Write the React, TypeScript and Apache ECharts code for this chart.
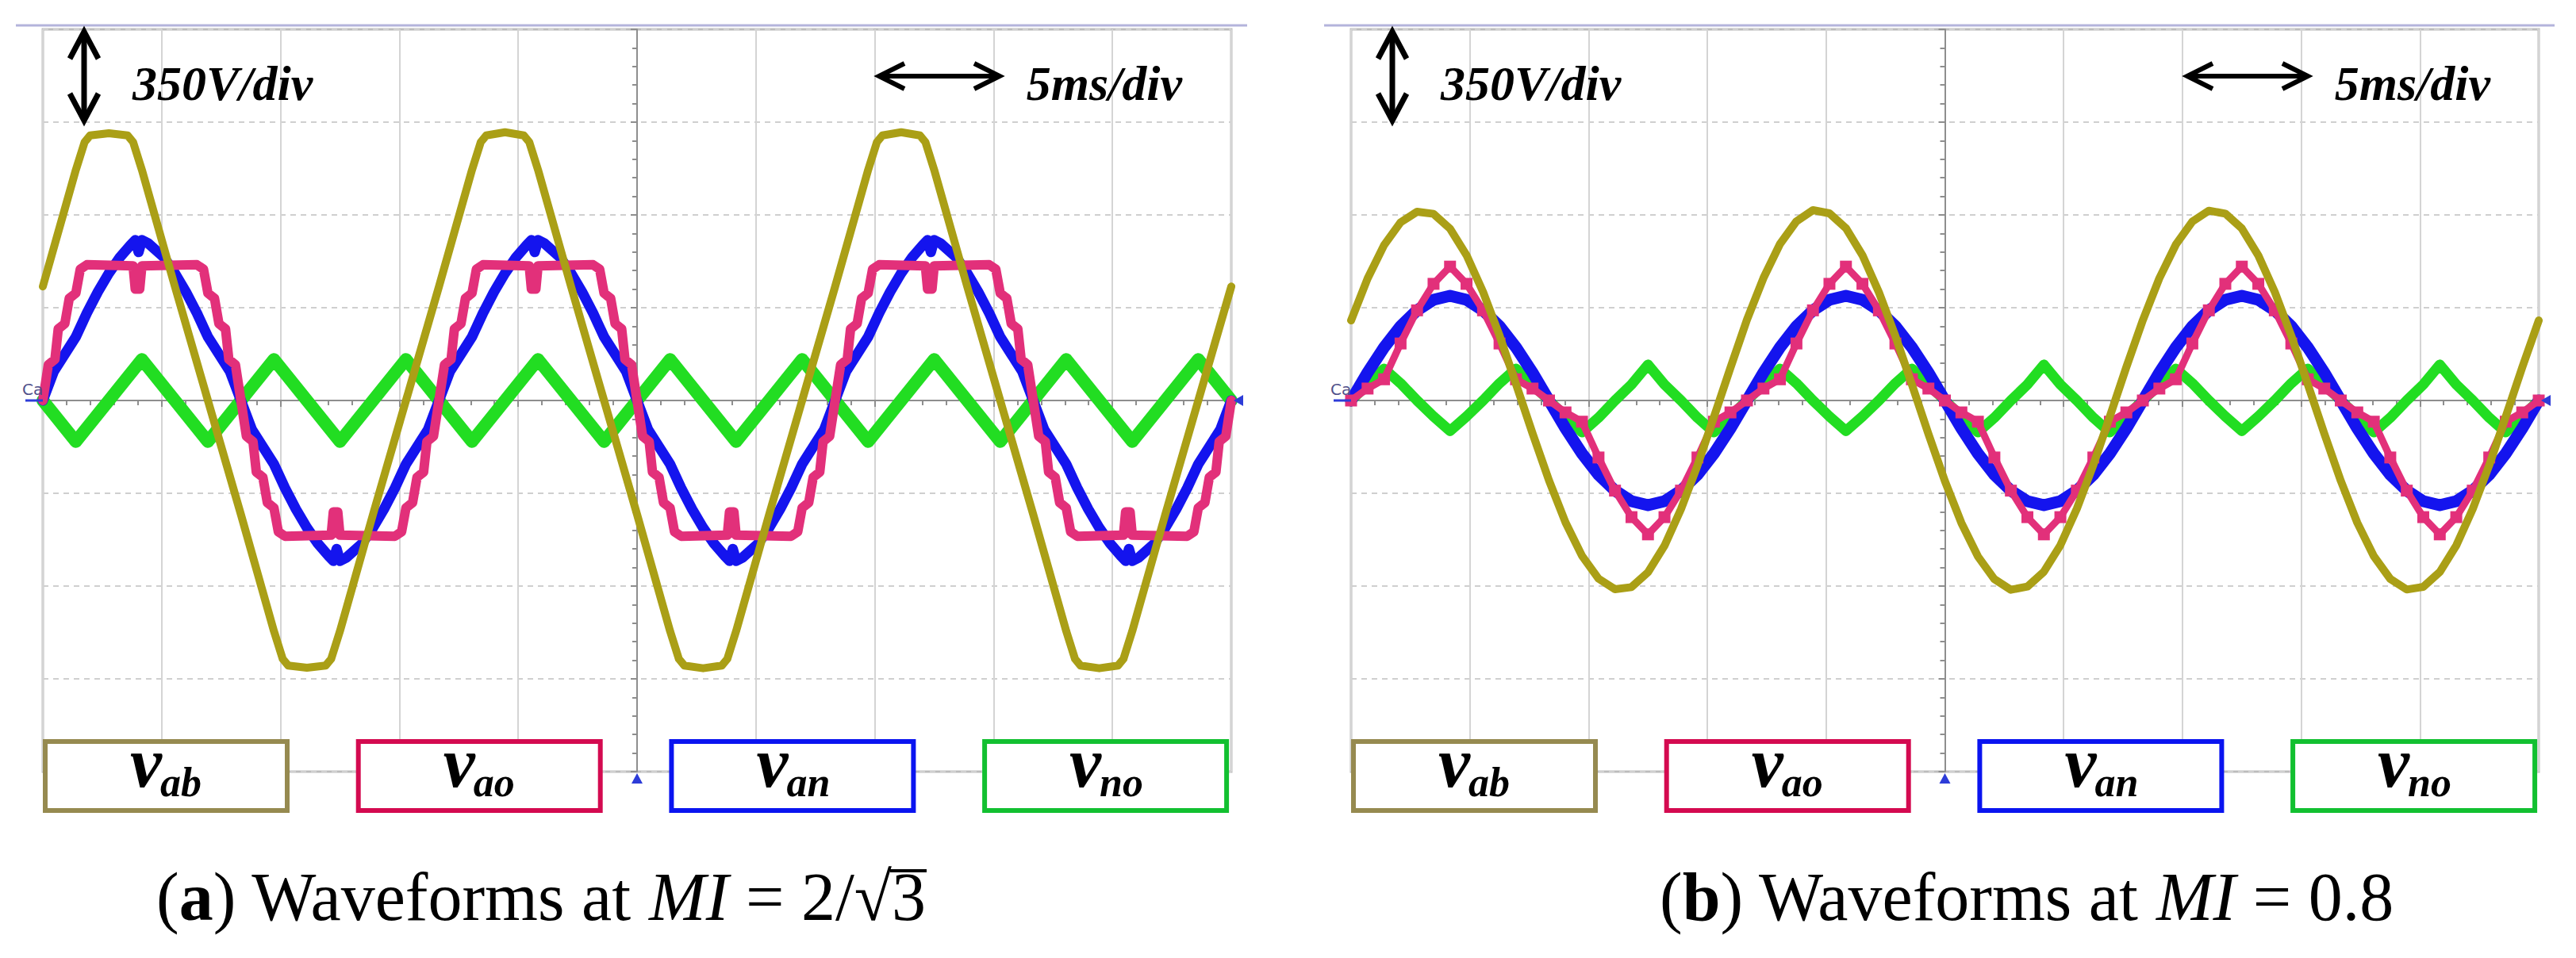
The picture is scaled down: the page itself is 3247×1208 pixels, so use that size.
import React, { useEffect, useRef } from "react";
import * as echarts from "echarts";

// ---------------- data (electrical angle in degrees of the 60 Hz fundamental, volts) ----------------
const PERIOD_MS = 16.667; // one fundamental period
const VOLT_DIV = 350;
const TIME_DIV = 5;

// (a) MI = 2/sqrt(3)
const vabA: [number, number][] = [
  [0, 430], [30, 870], [38, 975], [43, 1000], [60, 1008], [77, 1000], [82, 975], [90, 870], [120, 430], [150, 0],
  [180, -430], [210, -870], [218, -975], [223, -1000], [240, -1008], [257, -1000], [262, -975], [270, -870], [300, -430], [330, 0],
  [360, 430], [390, 870], [398, 975], [403, 1000], [420, 1012], [437, 1000], [442, 975], [450, 870], [480, 430], [510, 0],
  [540, -430], [570, -870], [578, -975], [583, -1000], [600, -1010], [617, -1000], [622, -975], [630, -870], [660, -430], [690, 0],
  [720, 430], [750, 870], [758, 975], [763, 1000], [780, 1012], [797, 1000], [802, 975], [810, 870], [840, 430], [870, 0],
  [900, -430], [930, -870], [938, -975], [943, -1000], [960, -1010], [977, -1000], [982, -975], [990, -870], [1020, -430], [1050, 0],
  [1080, 430],
];

const vaoA: [number, number][] = [
  [0, 0], [5, 135], [11, 155], [14, 270], [20, 290], [24, 385], [30, 405], [34, 495], [40, 512], [82, 508], [84, 420], [88, 420], [90, 508], [140, 512], [146, 495], [150, 405], [156, 385], [160, 290], [166, 270], [169, 155], [175, 135],
  [180, 0], [185, -135], [191, -155], [194, -270], [200, -290], [204, -385], [210, -405], [214, -495], [220, -512], [262, -508], [264, -420], [268, -420], [270, -508], [320, -512], [326, -495], [330, -405], [336, -385], [340, -290], [346, -270], [349, -155], [355, -135],
  [360, 0], [365, 135], [371, 155], [374, 270], [380, 290], [384, 385], [390, 405], [394, 495], [400, 512], [442, 508], [444, 420], [448, 420], [450, 508], [500, 512], [506, 495], [510, 405], [516, 385], [520, 290], [526, 270], [529, 155], [535, 135],
  [540, 0], [545, -135], [551, -155], [554, -270], [560, -290], [564, -385], [570, -405], [574, -495], [580, -512], [622, -508], [624, -420], [628, -420], [630, -508], [680, -512], [686, -495], [690, -405], [696, -385], [700, -290], [706, -270], [709, -155], [715, -135],
  [720, 0], [725, 135], [731, 155], [734, 270], [740, 290], [744, 385], [750, 405], [754, 495], [760, 512], [802, 508], [804, 420], [808, 420], [810, 508], [860, 512], [866, 495], [870, 405], [876, 385], [880, 290], [886, 270], [889, 155], [895, 135],
  [900, 0], [905, -135], [911, -155], [914, -270], [920, -290], [924, -385], [930, -405], [934, -495], [940, -512], [982, -508], [984, -420], [988, -420], [990, -508], [1040, -512], [1046, -495], [1050, -405], [1056, -385], [1060, -290], [1066, -270], [1069, -155], [1075, -135],
  [1080, 0],
];

const vanA: [number, number][] = [
  [0, 0], [10, 110], [20, 175], [30, 240], [40, 330], [50, 410], [60, 480], [70, 540], [80, 588], [84, 605], [87, 560], [90, 605], [96, 592], [110, 540], [120, 480], [130, 410], [140, 330], [150, 240], [160, 175], [170, 110],
  [180, 0], [190, -110], [200, -175], [210, -240], [220, -330], [230, -410], [240, -480], [250, -540], [260, -588], [264, -605], [267, -560], [270, -605], [276, -592], [290, -540], [300, -480], [310, -410], [320, -330], [330, -240], [340, -175], [350, -110],
  [360, 0], [370, 110], [380, 175], [390, 240], [400, 330], [410, 410], [420, 480], [430, 540], [440, 588], [444, 605], [447, 560], [450, 605], [456, 592], [470, 540], [480, 480], [490, 410], [500, 330], [510, 240], [520, 175], [530, 110],
  [540, 0], [550, -110], [560, -175], [570, -240], [580, -330], [590, -410], [600, -480], [610, -540], [620, -588], [624, -605], [627, -560], [630, -605], [636, -592], [650, -540], [660, -480], [670, -410], [680, -330], [690, -240], [700, -175], [710, -110],
  [720, 0], [730, 110], [740, 175], [750, 240], [760, 330], [770, 410], [780, 480], [790, 540], [800, 588], [804, 605], [807, 560], [810, 605], [816, 592], [830, 540], [840, 480], [850, 410], [860, 330], [870, 240], [880, 175], [890, 110],
  [900, 0], [910, -110], [920, -175], [930, -240], [940, -330], [950, -410], [960, -480], [970, -540], [980, -588], [984, -605], [987, -560], [990, -605], [996, -592], [1010, -540], [1020, -480], [1030, -410], [1040, -330], [1050, -240], [1060, -175], [1070, -110],
  [1080, 0],
];

const vnoA: [number, number][] = [
  [0, 0], [30, -155], [90, 155], [150, -155], [210, 155], [270, -155], [330, 155], [390, -155], [450, 155], [510, -155],
  [570, 155], [630, -155], [690, 155], [750, -155], [810, 155], [870, -155], [930, 155], [990, -155], [1050, 155], [1080, 0],
];

// (b) MI = 0.8 — sampled every 15 degrees
const anglesB = [
  0, 15, 30, 45, 60, 75, 90, 105, 120, 135, 150, 165, 180, 195, 210, 225, 240, 255, 270, 285, 300, 315, 330, 345,
  360, 375, 390, 405, 420, 435, 450, 465, 480, 495, 510, 525, 540, 555, 570, 585, 600, 615, 630, 645, 660, 675, 690, 705,
  720, 735, 750, 765, 780, 795, 810, 825, 840, 855, 870, 885, 900, 915, 930, 945, 960, 975, 990, 1005, 1020, 1035, 1050, 1065,
  1080,
];
const vabB = [
  302, 460, 586, 672, 712, 704, 648, 548, 410, 245, 62, -124, -302, -460, -586, -672, -712, -704, -648, -548, -410, -245, -62, 124,
  305, 462, 590, 676, 718, 706, 650, 548, 408, 243, 60, -126, -304, -462, -588, -674, -714, -702, -646, -546, -408, -243, -60, 126,
  303, 461, 588, 675, 716, 705, 649, 547, 409, 244, 61, -125, -303, -461, -587, -673, -713, -703, -647, -547, -409, -244, -61, 125,
  302,
];
const vaoB = [
  0, 45, 80, 215, 340, 440, 505, 440, 340, 215, 80, 45, 0, -45, -80, -215, -340, -440, -505, -440, -340, -215, -80, -45,
  0, 45, 80, 215, 340, 440, 505, 440, 340, 215, 80, 45, 0, -45, -80, -215, -340, -440, -505, -440, -340, -215, -80, -45,
  0, 45, 80, 215, 340, 440, 505, 440, 340, 215, 80, 45, 0, -45, -80, -215, -340, -440, -505, -440, -340, -215, -80, -45,
  0,
];
const vanB = [
  0, 105, 200, 280, 340, 380, 395, 380, 340, 280, 200, 105, 0, -105, -200, -280, -340, -380, -395, -380, -340, -280, -200, -105,
  0, 105, 200, 280, 340, 380, 395, 380, 340, 280, 200, 105, 0, -105, -200, -280, -340, -380, -395, -380, -340, -280, -200, -105,
  0, 105, 200, 280, 340, 380, 395, 380, 340, 280, 200, 105, 0, -105, -200, -280, -340, -380, -395, -380, -340, -280, -200, -105,
  0,
];
const vnoB = [
  0, 60, 120, 65, 0, -60, -115, -60, 0, 65, 120, 60, 0, -60, -120, -65, 0, 60, 135, 60, 0, -65, -120, -60,
  0, 60, 120, 65, 0, -60, -115, -60, 0, 65, 120, 60, 0, -60, -120, -65, 0, 60, 135, 60, 0, -65, -120, -60,
  0, 60, 120, 65, 0, -60, -115, -60, 0, 65, 120, 60, 0, -60, -120, -65, 0, 60, 135, 60, 0, -65, -120, -60,
  0,
];

const legendLabels = [
  { main: "v", sub: "ab" },
  { main: "v", sub: "ao" },
  { main: "v", sub: "an" },
  { main: "v", sub: "no" },
];
const captions = [
  { tag: "a", value: "2/√", radicand: "3" },
  { tag: "b", value: "0.8", radicand: "" },
];

// ---------------- styling ----------------
const TRACE = { ab: "#aa9f16", ao: "#e2307a", an: "#1414ee", no: "#22dd22" };
const BOX = ["#968a50", "#d40a50", "#0a14f0", "#12c030"];
const SERIF = "'Liberation Serif', 'Times New Roman', serif";
const CAP_SIZE = 86;

const PANELS = [
  { left: 54, width: 1498, capX: 197 },
  { left: 1703, width: 1497, capX: 2092 },
];
const TOP = 37;
const HEIGHT = 936;

const toMs = (deg: number) => (deg * PERIOD_MS) / 360 - 25;

function measure(text: string, font: string) {
  const c = document.createElement("canvas").getContext("2d");
  if (!c) return text.length * 40;
  c.font = font;
  return c.measureText(text).width;
}

function line(name: string, pts: [number, number][], color: string, width: number, idx: number, z: number, blocks = false) {
  return {
    type: "line",
    name,
    xAxisIndex: idx,
    yAxisIndex: idx,
    data: pts.map(([d, v]) => [toMs(d), v]),
    showSymbol: blocks,
    symbol: blocks ? "rect" : "none",
    symbolSize: [15, 15],
    silent: true,
    clip: true,
    z,
    lineStyle: { color, width, join: "round", cap: "round" },
    itemStyle: { color, borderWidth: 0 },
  };
}

function buildGraphic() {
  const g: any[] = [];
  PANELS.forEach((p, pi) => {
    const L = p.left;
    const R = p.left + p.width;
    const C = p.left + p.width / 2;
    // lavender top rule
    g.push({ type: "line", shape: { x1: L - 34, y1: 32, x2: R + 20, y2: 32 }, style: { stroke: "#b4b4dc", lineWidth: 3 }, z: 10 });
    // vertical double arrow
    const ax = L + 52;
    g.push({ type: "line", shape: { x1: ax, y1: 40, x2: ax, y2: 152 }, style: { stroke: "#000", lineWidth: 7 }, z: 20 });
    g.push({ type: "polyline", shape: { points: [[ax - 18, 74], [ax, 40], [ax + 18, 74]] }, style: { stroke: "#000", lineWidth: 7, fill: null }, z: 20 });
    g.push({ type: "polyline", shape: { points: [[ax - 18, 118], [ax, 152], [ax + 18, 118]] }, style: { stroke: "#000", lineWidth: 7, fill: null }, z: 20 });
    g.push({
      type: "text", x: L + 113, y: 105, z: 20,
      style: { text: `${VOLT_DIV}V/div`, font: `italic bold 62px ${SERIF}`, fill: "#000", verticalAlign: "middle", align: "left" },
    });
    // horizontal double arrow
    const hx1 = L + 1054, hx2 = L + 1206, hy = 96;
    g.push({ type: "line", shape: { x1: hx1, y1: hy, x2: hx2, y2: hy }, style: { stroke: "#000", lineWidth: 6 }, z: 20 });
    g.push({ type: "polyline", shape: { points: [[hx1 + 32, hy - 16], [hx1, hy], [hx1 + 32, hy + 16]] }, style: { stroke: "#000", lineWidth: 6, fill: null }, z: 20 });
    g.push({ type: "polyline", shape: { points: [[hx2 - 32, hy - 16], [hx2, hy], [hx2 - 32, hy + 16]] }, style: { stroke: "#000", lineWidth: 6, fill: null }, z: 20 });
    g.push({
      type: "text", x: L + 1436, y: 105, z: 20,
      style: { text: `${TIME_DIV}ms/div`, font: `italic bold 62px ${SERIF}`, fill: "#000", verticalAlign: "middle", align: "right" },
    });
    // channel marker
    g.push({ type: "text", x: L - 26, y: 491, z: 20, style: { text: "Ca", font: "20px 'DejaVu Sans', sans-serif", fill: "#50508a", verticalAlign: "middle" } });
    g.push({ type: "line", shape: { x1: L - 22, y1: 505, x2: L, y2: 505 }, style: { stroke: "#2d3cd8", lineWidth: 3 }, z: 20 });
    g.push({ type: "polygon", shape: { points: [[R + 3, 505], [R + 15, 498], [R + 15, 512]] }, style: { fill: "#2d3cd8" }, z: 20 });
    g.push({ type: "polygon", shape: { points: [[C, 975], [C - 7, 988], [C + 7, 988]] }, style: { fill: "#2d3cd8" }, z: 20 });
    // legend boxes
    legendLabels.forEach((lab, k) => {
      const bx = L + k * 394.7;
      const cx = bx + 157;
      g.push({ type: "rect", shape: { x: bx + 3, y: 935, width: 305, height: 87 }, style: { fill: "#fff", stroke: BOX[k], lineWidth: 6 }, z: 30 });
      g.push({ type: "text", x: cx - 47, y: 961, z: 31, style: { text: lab.main, font: `italic bold 90px ${SERIF}`, fill: "#000", verticalAlign: "middle" } });
      g.push({ type: "text", x: cx - 9, y: 986, z: 31, style: { text: lab.sub, font: `italic bold 52px ${SERIF}`, fill: "#000", verticalAlign: "middle" } });
    });
    // caption
    const fN = `${CAP_SIZE}px ${SERIF}`;
    const fB = `bold ${CAP_SIZE}px ${SERIF}`;
    const fI = `italic ${CAP_SIZE}px ${SERIF}`;
    const capRich = {
      n: { font: fN, fill: "#000" },
      b: { font: fB, fill: "#000" },
      i: { font: fI, fill: "#000" },
    };
    const cap = captions[pi];
    g.push({
      type: "text", x: p.capX, y: 1131, z: 20,
      style: { text: `{n|(}{b|${cap.tag}}{n|) Waveforms at }{i|MI}{n| = ${cap.value}${cap.radicand}}`, rich: capRich, verticalAlign: "middle" },
    });
    if (cap.radicand) {
      const pre =
        measure("(", fN) + measure(cap.tag, fB) + measure(") Waveforms at ", fN) + measure("MI", fI) + measure(` = ${cap.value}`, fN);
      const rw = measure(cap.radicand, fN);
      const x0 = p.capX + pre - 2;
      g.push({ type: "line", shape: { x1: x0, y1: 1098, x2: x0 + rw + 3, y2: 1098 }, style: { stroke: "#000", lineWidth: 4 }, z: 20 });
    }
  });
  return g;
}

function axisPair(i: number) {
  const x = {
    type: "value", gridIndex: i, min: -25, max: 25, interval: TIME_DIV,
    axisLine: { show: true, onZero: true, lineStyle: { color: "#8e8e8e", width: 2 } },
    axisTick: { show: true, length: 8, lineStyle: { color: "#8e8e8e", width: 2 } },
    minorTick: { show: true, splitNumber: 5, length: 6, lineStyle: { color: "#8e8e8e", width: 2 } },
    axisLabel: { show: false },
    splitLine: { show: true, lineStyle: { color: "#d4d4d4", width: 2 } },
  };
  const y = {
    type: "value", gridIndex: i, min: -4 * VOLT_DIV, max: 4 * VOLT_DIV, interval: VOLT_DIV,
    axisLine: { show: true, onZero: true, lineStyle: { color: "#8e8e8e", width: 2 } },
    axisTick: { show: true, length: 8, lineStyle: { color: "#8e8e8e", width: 2 } },
    minorTick: { show: true, splitNumber: 5, length: 6, lineStyle: { color: "#8e8e8e", width: 2 } },
    axisLabel: { show: false },
    splitLine: { show: true, lineStyle: { color: "#cfcfcf", width: 2, type: [7, 6] } },
  };
  return { x, y };
}

export default function App() {
  const ref = useRef<HTMLDivElement>(null);
  useEffect(() => {
    document.body.style.margin = "0";
    if (!ref.current) return;
    const chart = echarts.init(ref.current, undefined, { renderer: "svg", width: 3247, height: 1208 });
    const axes = [axisPair(0), axisPair(1)];
    const zip = (vals: number[]) => anglesB.map((a, k) => [a, vals[k]] as [number, number]);
    chart.setOption({
      animation: false,
      backgroundColor: "#ffffff",
      grid: PANELS.map((p) => ({
        left: p.left, top: TOP, width: p.width, height: HEIGHT, show: true,
        borderColor: "#bcbcbc", borderWidth: 3, backgroundColor: "transparent", containLabel: false,
      })),
      xAxis: axes.map((a) => a.x),
      yAxis: axes.map((a) => a.y),
      series: [
        line("vno (a)", vnoA, TRACE.no, 16, 0, 2),
        line("van (a)", vanA, TRACE.an, 13, 0, 3),
        line("vao (a)", vaoA, TRACE.ao, 12, 0, 4),
        line("vab (a)", vabA, TRACE.ab, 10, 0, 5),
        line("vno (b)", zip(vnoB), TRACE.no, 13, 1, 2),
        line("van (b)", zip(vanB), TRACE.an, 15, 1, 3),
        line("vao (b)", zip(vaoB), TRACE.ao, 9, 1, 4, true),
        line("vab (b)", zip(vabB), TRACE.ab, 10, 1, 5),
      ],
      graphic: buildGraphic(),
    });
    return () => chart.dispose();
  }, []);
  return <div ref={ref} style={{ width: 3247, height: 1208, background: "#fff" }} />;
}
